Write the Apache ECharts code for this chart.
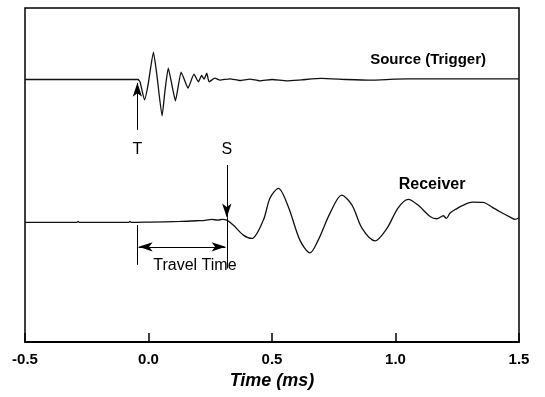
<!DOCTYPE html>
<html>
<head>
<meta charset="utf-8">
<script src="https://cdn.jsdelivr.net/npm/echarts@6/dist/echarts.min.js"></script>
<style>
html,body{margin:0;padding:0;background:#fff;}
#chart{width:545px;height:397px;}
</style>
</head>
<body>
<div id="chart"></div>
<script>
// ---- Data ----
const xTicks = [-0.5, 0.0, 0.5, 1.0, 1.5];

const sourceTime = [-0.5, -0.2, -0.0425, -0.034, -0.016, -0.002, 0.020, 0.034, 0.055, 0.067, 0.080, 0.095, 0.109, 0.132, 0.146, 0.160, 0.184, 0.202, 0.215, 0.225, 0.236, 0.245, 0.269, 0.289, 0.33, 0.37, 0.41, 0.45, 0.5, 0.56, 0.62, 0.7, 0.8, 0.9, 1.0, 1.1, 1.2, 1.3, 1.4, 1.5];
const sourceAmp  = [78.6, 78.6, 78.6, 77.8, 72.5, 76.9, 86.8, 79.9, 67.7, 75.4, 82.0, 76.9, 72.2, 80.8, 78.4, 76.0, 80.2, 77.9, 79.8, 78.7, 80.5, 77.9, 79.0, 78.4, 78.8, 78.3, 78.7, 78.2, 78.6, 78.2, 78.5, 78.9, 78.6, 78.4, 78.7, 78.8, 78.8, 78.8, 78.8, 78.8];

const receiverTime = [-0.5, -0.29, -0.285, -0.28, -0.08, -0.075, -0.07, 0.006, 0.128, 0.195, 0.229, 0.256, 0.281, 0.298, 0.317, 0.343, 0.384, 0.418, 0.465, 0.492, 0.526, 0.566, 0.613, 0.654, 0.687, 0.735, 0.782, 0.824, 0.864, 0.917, 0.966, 1.010, 1.052, 1.091, 1.140, 1.167, 1.194, 1.206, 1.221, 1.245, 1.275, 1.310, 1.355, 1.391, 1.423, 1.464, 1.484, 1.500];
const receiverAmp  = [35.8, 35.8, 36.1, 35.8, 35.8, 36.1, 35.8, 35.9, 36.1, 36.3, 36.4, 36.7, 36.5, 36.7, 36.5, 35.0, 32.0, 31.0, 36.5, 43.1, 46.0, 40.5, 30.5, 26.7, 30.5, 38.6, 44.0, 41.0, 34.1, 30.3, 34.1, 40.1, 42.7, 41.0, 37.6, 36.9, 37.8, 37.0, 38.6, 39.8, 41.0, 41.9, 41.8, 40.4, 39.0, 37.4, 36.7, 37.2];

// annotation values (time in ms, vertical in plot units)
const triggerTime = -0.045;
const arrivalTime = 0.317;
const sourceLabel = ['Source (Trigger)', 1.132, 84.4];
const receiverLabel = ['Receiver', 1.148, 47.0];
const travelLabel = ['Travel Time', 0.188, 22.9];
const markLetters = [['T', triggerTime, 57.5], ['S', arrivalTime, 57.5]];

// ---- Build ----
const zip = (a, b) => a.map((v, i) => [v, b[i]]);
const FONT = '"Liberation Sans", Arial, sans-serif';
const arrow = {symbol: 'arrow', symbolSize: [7, 14]};

function textPoint(txt, x, y, style) {
  return {
    coord: [x, y], symbol: 'circle', symbolSize: 1,
    itemStyle: {color: 'rgba(0,0,0,0)'},
    label: Object.assign({show: true, position: 'inside', formatter: txt, color: '#000', fontFamily: FONT}, style)
  };
}

const chart = echarts.init(document.getElementById('chart'), null, {renderer: 'canvas'});
chart.setOption({
  animation: false,
  backgroundColor: '#fff',
  grid: {left: 25, right: 26, top: 8, bottom: 55, show: true, borderColor: '#000', borderWidth: 1.5},
  xAxis: {
    type: 'value', min: xTicks[0], max: xTicks[xTicks.length - 1], interval: 0.5,
    name: 'Time (ms)', nameLocation: 'middle', nameGap: 26,
    nameTextStyle: {fontFamily: FONT, fontWeight: 'bold', fontStyle: 'italic', fontSize: 18, color: '#000'},
    axisLine: {lineStyle: {color: '#000', width: 2}},
    axisTick: {inside: true, length: 9, lineStyle: {color: '#000', width: 1.5}},
    axisLabel: {showMinLabel: true, showMaxLabel: true, margin: 10, color: '#000', fontFamily: FONT, fontWeight: 'bold', fontSize: 15,
      formatter: v => v.toFixed(1)},
    splitLine: {show: false}
  },
  yAxis: {type: 'value', min: 0, max: 100, show: false, splitLine: {show: false}},
  series: [
    {
      type: 'line', data: zip(sourceTime, sourceAmp), showSymbol: false, smooth: 0.15,
      lineStyle: {color: '#111', width: 1.3}, silent: true,
      markPoint: {silent: true, data: [textPoint(sourceLabel[0], sourceLabel[1], sourceLabel[2], {fontWeight: 'bold', fontSize: 15})]}
    },
    {
      type: 'line', data: zip(receiverTime, receiverAmp), showSymbol: false, smooth: 0.3,
      lineStyle: {color: '#111', width: 1.3}, silent: true,
      markPoint: {silent: true, data: [
        textPoint(receiverLabel[0], receiverLabel[1], receiverLabel[2], {fontWeight: 'bold', fontSize: 16}),
        textPoint(travelLabel[0], travelLabel[1], travelLabel[2], {fontSize: 16}),
        textPoint(markLetters[0][0], markLetters[0][1], markLetters[0][2], {fontSize: 16}),
        textPoint(markLetters[1][0], markLetters[1][1], markLetters[1][2], {fontSize: 16})
      ]},
      markLine: {
        silent: true, animation: false,
        label: {show: false},
        lineStyle: {color: '#000', width: 1, type: 'solid'},
        emphasis: {disabled: true},
        data: [
          [{coord: [triggerTime, 63.5], symbol: 'none'}, Object.assign({coord: [triggerTime, 77.6]}, arrow)],
          [{coord: [arrivalTime, 53.0], symbol: 'none'}, Object.assign({coord: [arrivalTime, 37.3]}, arrow)],
          [{coord: [arrivalTime, 37.3], symbol: 'none'}, {coord: [arrivalTime, 22.0], symbol: 'none'}],
          [{coord: [triggerTime, 35.0], symbol: 'none'}, {coord: [triggerTime, 23.1], symbol: 'none'}],
          [Object.assign({coord: [arrivalTime - 0.005, 28.5]}, arrow), Object.assign({coord: [triggerTime + 0.005, 28.5]}, arrow)]
        ]
      }
    }
  ]
});
</script>
</body>
</html>
